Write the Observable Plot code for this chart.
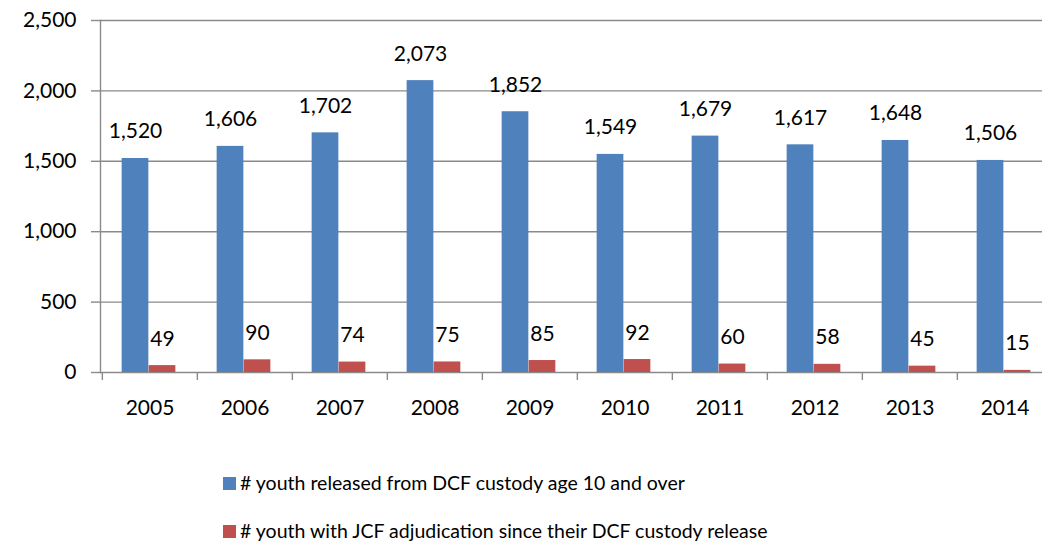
<!DOCTYPE html>
<html>
<head>
<meta charset="utf-8">
<script src="https://cdn.jsdelivr.net/npm/d3@7"></script>
<script src="https://cdn.jsdelivr.net/npm/@observablehq/plot@0.6"></script>
<style>
  html, body { margin: 0; padding: 0; background: #fff; overflow: hidden; }
  #wrap { position: relative; width: 1042px; height: 545px; font-family: Lato, "Open Sans", sans-serif; }
  .legend-item { position: absolute; left: 223px; display: flex; align-items: center; font-size: 19.5px; color: #000; white-space: nowrap; line-height: 24px; }
  .legend-item span.sw { display: inline-block; width: 13px; height: 13px; margin-right: 4px; }
</style>
</head>
<body>
<div id="wrap"></div>
<script>
const years = ["2005","2006","2007","2008","2009","2010","2011","2012","2013","2014"];
const released = [1520,1606,1702,2073,1852,1549,1679,1617,1648,1506];
const adjudicated = [49,90,74,75,85,92,60,58,45,15];
const seriesNames = ["# youth released from DCF custody age 10 and over",
                     "# youth with JCF adjudication since their DCF custody release"];
const seriesColors = ["#4F81BD", "#C0504D"];
const yTicks = [0,500,1000,1500,2000,2500];

const W = 1042, H = 445;
const mL = 100, mR = -11, mT = 20, mB = 73;
const step = (W - mL - mR) / years.length;
const barW = 27;
const half = step / 2;
const plotH = H - mT - mB;

const rows1 = years.map((y, i) => ({year: y, value: released[i]}));
const rows2 = years.map((y, i) => ({year: y, value: adjudicated[i]}));
const fmt = d3.format(",");
const grid = "#8a8a8a";

const chart = Plot.plot({
  width: W, height: H,
  marginLeft: mL, marginRight: mR, marginTop: mT, marginBottom: mB,
  style: {fontFamily: "Lato, 'Open Sans', sans-serif", fontSize: "21px", color: "#000", background: "#fff"},
  x: {domain: years, padding: 0, axis: null, label: null},
  y: {domain: [0, 2500], axis: null, label: null},
  marks: [
    Plot.gridY(yTicks, {stroke: grid, strokeOpacity: 1, strokeWidth: 1.4}),
    Plot.frame({anchor: "left", stroke: grid, strokeWidth: 1.4}),
    Plot.ruleX(years, {x: d => d, dx: -half, insetTop: plotH, insetBottom: -8, stroke: grid, strokeWidth: 1.4}),
    Plot.axisY({ticks: yTicks, tickFormat: fmt, tickSize: 9, tickPadding: 15, stroke: grid, strokeWidth: 1.4, fill: "#000", fontSize: 21, label: null}),
    Plot.axisX({tickSize: 0, tickPadding: 28, fill: "#000", fontSize: 21, label: null}),
    Plot.barY(rows1, {x: "year", y: "value", fill: seriesColors[0], insetLeft: half - barW - 1, insetRight: half + 1}),
    Plot.barY(rows2, {x: "year", y: "value", fill: seriesColors[1], insetLeft: half - 1, insetRight: half - barW + 1}),
    Plot.text(rows1, {x: "year", y: "value", text: d => fmt(d.value), dx: -barW / 2 - 1, dy: -20, lineAnchor: "bottom", fill: "#000", fontSize: 21}),
    Plot.text(rows2, {x: "year", y: "value", text: d => fmt(d.value), dx: barW / 2 - 1, dy: -20, lineAnchor: "bottom", fill: "#000", fontSize: 21})
  ]
});
const wrap = document.getElementById("wrap");
wrap.appendChild(chart);

const tops = [471, 519];
seriesNames.forEach((name, i) => {
  const div = document.createElement("div");
  div.className = "legend-item";
  div.style.top = tops[i] + "px";
  div.innerHTML = `<span class="sw" style="background:${seriesColors[i]}"></span><span></span>`;
  div.lastChild.textContent = name;
  wrap.appendChild(div);
});
</script>
</body>
</html>
